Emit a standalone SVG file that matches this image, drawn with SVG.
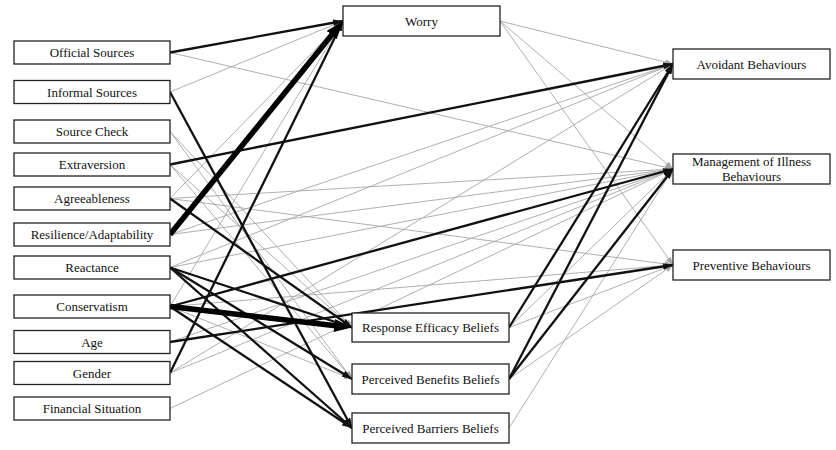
<svg xmlns="http://www.w3.org/2000/svg" width="836" height="450" viewBox="0 0 836 450">
<style>
.box{fill:#fff;stroke:#222;stroke-width:1.3}
.lbl{font-family:"Liberation Serif","Times New Roman",serif;font-size:13px;fill:#111;text-anchor:middle}
.g{stroke:#a6a6a6;stroke-width:0.9;fill:none;marker-end:url(#arrG)}
.b{stroke:#111;stroke-width:2.3;fill:none;marker-end:url(#arrB)}
.t{stroke:#000;stroke-width:5.5;fill:none;marker-end:url(#arrT)}
</style>
<defs>
<marker id="arrG" viewBox="0 0 8 6" refX="8" refY="3" markerWidth="8" markerHeight="6" markerUnits="userSpaceOnUse" orient="auto"><path d="M0,0 L8,3 L0,6 z" fill="#a6a6a6"/></marker>
<marker id="arrB" viewBox="0 0 10 7" refX="10" refY="3.5" markerWidth="10" markerHeight="7" markerUnits="userSpaceOnUse" orient="auto"><path d="M0,0 L10,3.5 L0,7 z" fill="#111"/></marker>
<marker id="arrT" viewBox="0 0 18 13" refX="8" refY="6.5" markerWidth="18" markerHeight="13" markerUnits="userSpaceOnUse" orient="auto"><path d="M0,0 L18,6.5 L0,13 z" fill="#000"/></marker>
</defs>
<rect width="836" height="450" fill="#fff"/>
<g id="connectors">
<line class="g" x1="170" y1="52.5" x2="673" y2="169"/>
<line class="g" x1="170" y1="92" x2="343" y2="21"/>
<line class="g" x1="170" y1="131.5" x2="352" y2="327.5"/>
<line class="g" x1="170" y1="131.5" x2="352" y2="379"/>
<line class="g" x1="170" y1="164.5" x2="352" y2="327.5"/>
<line class="g" x1="170" y1="164.5" x2="352" y2="379"/>
<line class="g" x1="170" y1="198.5" x2="343" y2="21"/>
<line class="g" x1="170" y1="198.5" x2="673" y2="169"/>
<line class="g" x1="170" y1="198.5" x2="673" y2="265"/>
<line class="g" x1="170" y1="234.5" x2="673" y2="64"/>
<line class="g" x1="170" y1="234.5" x2="673" y2="169"/>
<line class="g" x1="170" y1="267.5" x2="673" y2="64"/>
<line class="g" x1="170" y1="267.5" x2="673" y2="169"/>
<line class="g" x1="170" y1="306.5" x2="343" y2="21"/>
<line class="g" x1="170" y1="306.5" x2="673" y2="265"/>
<line class="g" x1="170" y1="306.5" x2="352" y2="379"/>
<line class="g" x1="170" y1="342" x2="673" y2="169"/>
<line class="g" x1="170" y1="373" x2="673" y2="64"/>
<line class="g" x1="170" y1="373" x2="673" y2="169"/>
<line class="g" x1="170" y1="408.5" x2="673" y2="169"/>
<line class="g" x1="500" y1="21" x2="673" y2="64"/>
<line class="g" x1="500" y1="21" x2="673" y2="169"/>
<line class="g" x1="500" y1="21" x2="673" y2="265"/>
<line class="g" x1="509" y1="327.5" x2="673" y2="169"/>
<line class="g" x1="509" y1="327.5" x2="673" y2="265"/>
<line class="g" x1="509" y1="379" x2="673" y2="265"/>
<line class="g" x1="509" y1="428" x2="673" y2="169"/>
<line class="b" x1="170" y1="52.5" x2="343" y2="21"/>
<line class="b" x1="170" y1="92" x2="352" y2="428"/>
<line class="b" x1="170" y1="164.5" x2="673" y2="64"/>
<line class="b" x1="170" y1="198.5" x2="352" y2="327.5"/>
<line class="b" x1="170" y1="267.5" x2="352" y2="327.5"/>
<line class="b" x1="170" y1="267.5" x2="352" y2="379"/>
<line class="b" x1="170" y1="267.5" x2="352" y2="428"/>
<line class="b" x1="170" y1="306.5" x2="352" y2="428"/>
<line class="b" x1="170" y1="306.5" x2="673" y2="169"/>
<line class="b" x1="170" y1="342" x2="673" y2="265"/>
<line class="b" x1="170" y1="373" x2="343" y2="21"/>
<line class="b" x1="509" y1="327.5" x2="673" y2="64"/>
<line class="b" x1="509" y1="379" x2="673" y2="64"/>
<line class="b" x1="509" y1="379" x2="673" y2="169"/>
<line class="t" x1="170" y1="234.5" x2="336.7" y2="28.8"/>
<line class="t" x1="170" y1="306.5" x2="342.1" y2="326.4"/>
</g>
<g id="n-official"><rect class="box" x="14" y="41" width="156" height="23"/><text class="lbl" x="92" y="57">Official Sources</text></g>
<g id="n-informal"><rect class="box" x="14" y="80.5" width="156" height="23"/><text class="lbl" x="92" y="96.5">Informal Sources</text></g>
<g id="n-sourcecheck"><rect class="box" x="14" y="120" width="156" height="23"/><text class="lbl" x="92" y="136">Source Check</text></g>
<g id="n-extraversion"><rect class="box" x="14" y="153" width="156" height="23"/><text class="lbl" x="92" y="169">Extraversion</text></g>
<g id="n-agreeableness"><rect class="box" x="14" y="187" width="156" height="23"/><text class="lbl" x="92" y="203">Agreeableness</text></g>
<g id="n-resilience"><rect class="box" x="14" y="223" width="156" height="23"/><text class="lbl" x="92" y="239">Resilience/Adaptability</text></g>
<g id="n-reactance"><rect class="box" x="14" y="256" width="156" height="23"/><text class="lbl" x="92" y="272">Reactance</text></g>
<g id="n-conservatism"><rect class="box" x="14" y="295" width="156" height="23"/><text class="lbl" x="92" y="311">Conservatism</text></g>
<g id="n-age"><rect class="box" x="14" y="330.5" width="156" height="23"/><text class="lbl" x="92" y="346.5">Age</text></g>
<g id="n-gender"><rect class="box" x="14" y="361.5" width="156" height="23"/><text class="lbl" x="92" y="377.5">Gender</text></g>
<g id="n-financial"><rect class="box" x="14" y="397" width="156" height="23"/><text class="lbl" x="92" y="413">Financial Situation</text></g>
<g id="n-worry"><rect class="box" x="343" y="6" width="157" height="30"/><text class="lbl" x="421.5" y="25.5">Worry</text></g>
<g id="n-response-efficacy"><rect class="box" x="352" y="313" width="157" height="29"/><text class="lbl" x="430.5" y="332">Response Efficacy Beliefs</text></g>
<g id="n-perceived-benefits"><rect class="box" x="352" y="364" width="157" height="30"/><text class="lbl" x="430.5" y="383.5">Perceived Benefits Beliefs</text></g>
<g id="n-perceived-barriers"><rect class="box" x="352" y="413" width="157" height="30"/><text class="lbl" x="430.5" y="432.5">Perceived Barriers Beliefs</text></g>
<g id="n-avoidant"><rect class="box" x="673" y="49" width="157" height="30"/><text class="lbl" x="751.5" y="68.5">Avoidant Behaviours</text></g>
<g id="n-management"><rect class="box" x="673" y="154" width="157" height="30"/><text class="lbl" x="751.5" y="165.5">Management of Illness</text><text class="lbl" x="751.5" y="181">Behaviours</text></g>
<g id="n-preventive"><rect class="box" x="673" y="250" width="157" height="30"/><text class="lbl" x="751.5" y="269.5">Preventive Behaviours</text></g>
</svg>
